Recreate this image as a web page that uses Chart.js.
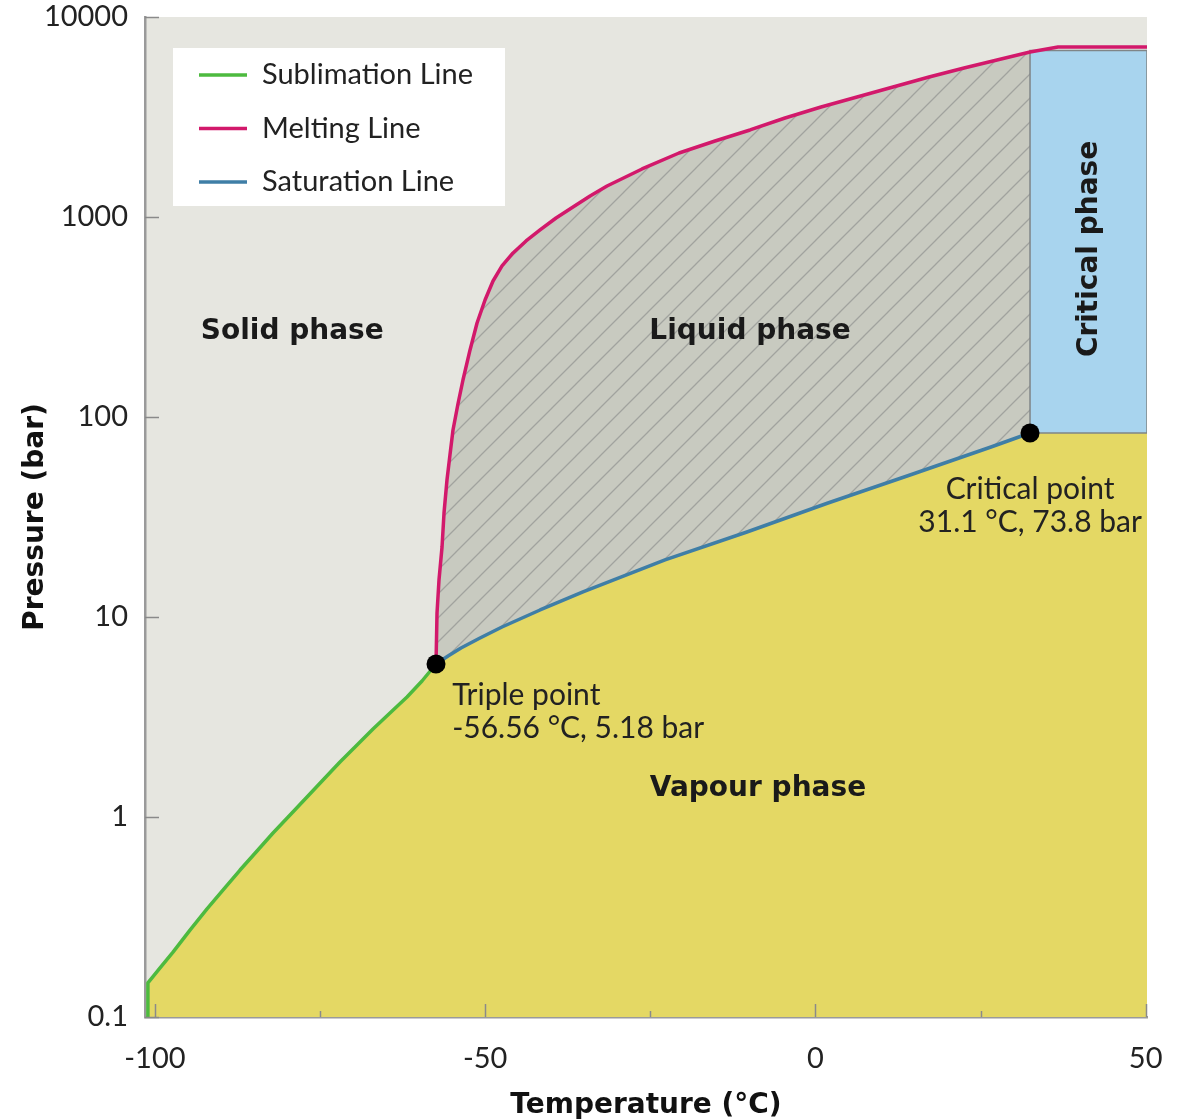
<!DOCTYPE html>
<html>
<head>
<meta charset="utf-8">
<script src="https://cdn.jsdelivr.net/npm/chart.js@4.4.0/dist/chart.umd.min.js"></script>
<style>
  html, body { margin: 0; padding: 0; background: #fff; }
  #wrap { width: 1184px; height: 1119px; }
</style>
</head>
<body>
<div id="wrap"><canvas id="phase-chart"></canvas></div>
<script>
// CO2 phase diagram

const xRange = [-101.5, 50.2];
const yRange = [0.1, 10000];
const xTickValues = [-100, -75, -50, -25, 0, 25, 50];
const xLabelValues = [-100, -50, 0, 50];
const yTickValues = [0.1, 1, 10, 100, 1000, 10000];

const sublimationT = [-101.06, -101.06, -99.22, -97.26, -94.69, -92.11, -89.54, -87.11, -84.54, -82.12, -79.54,
    -76.97, -74.55, -71.98, -69.40, -66.98, -64.41, -61.83, -59.56, -57.44];
const sublimationP = [0.1, 0.148, 0.176, 0.211, 0.272, 0.347, 0.437, 0.543, 0.676, 0.832, 1.023,
    1.259, 1.531, 1.884, 2.291, 2.754, 3.311, 3.981, 4.786, 5.82];

const meltingT = [-57.44, -57.29, -56.99, -56.53, -56.23, -55.78, -55.33, -54.87, -54.12, -53.36, -52.29, -51.23,
    -50.02, -48.81, -47.45, -45.78, -43.81, -41.69, -39.27, -36.70, -34.12, -31.55, -26.25, -20.65, -15.20,
    -9.90, -4.60, 0.85, 6.30, 11.75, 17.20, 22.50, 27.49, 32.49, 36.73, 50.2];
const meltingP = [5.82, 10.47, 15.31, 22.39, 33.11, 48.42, 64.57, 86.1, 116.1, 153.1, 216.3, 295.1,
    384.6, 478.6, 568.9, 660.7, 758.6, 861, 988.6, 1122, 1274, 1429, 1738, 2089, 2399,
    2723, 3126, 3548, 3981, 4467, 5012, 5559, 6095, 6683, 7079, 7079];

const saturationT = [-57.44, -55.62, -53.66, -50.78, -47.45, -41.69, -35.19, -22.77, -10.37, 1.90, 14.32, 26.58, 32.49];
const saturationP = [5.82, 6.38, 7.0, 7.85, 8.91, 10.84, 13.34, 19.28, 26.61, 37.15, 51.29, 70.79, 83.18];

const triplePoint = { t: -57.44, p: 5.82 };
const criticalPoint = { t: 32.49, p: 83.18 };
const criticalTop = 6800;

// text placed on the chart (anchors in data units)
const regionLabels = [
    { text: 'Solid phase', t: -79.2, p: 266 },
    { text: 'Liquid phase', t: -9.9, p: 266 },
    { text: 'Vapour phase', t: -8.7, p: 1.38 },
    { text: 'Critical phase', t: 41.6, p: 692, rotate: true }
];
const pointNotes = [
    { lines: ['Triple point', '-56.56 °C, 5.18 bar'], t: -55.0, p: 4.05, align: 'left' },
    { lines: ['Critical point', '31.1 °C, 73.8 bar'], t: 32.5, p: 43.7, align: 'center' }
];

const colors = {
    plotBg: '#e6e6e0',
    vapour: '#e4d864',
    liquid: '#c8cac0',
    hatch: '#a1a39e',
    critical: '#a8d4ee',
    criticalBorder: '#7f8587',
    sublimation: '#4dba3f',
    melting: '#d2196b',
    saturation: '#3f7ea6',
    axis: '#9a9a9a',
    text: '#1a1a1a'
};

function toPoints(ts, ps) {
    return ts.map((t, i) => ({ x: t, y: ps[i] }));
}

// diagonal hatch for the liquid region
function makeHatch() {
    const size = 24;
    const c = document.createElement('canvas');
    c.width = size;
    c.height = size;
    const g = c.getContext('2d');
    g.fillStyle = colors.liquid;
    g.fillRect(0, 0, size, size);
    g.strokeStyle = colors.hatch;
    g.lineWidth = 1.3;
    g.beginPath();
    g.moveTo(-2, size + 2); g.lineTo(size + 2, -2);
    g.moveTo(-2, 2); g.lineTo(2, -2);
    g.moveTo(size - 2, size + 2); g.lineTo(size + 2, size - 2);
    g.stroke();
    return g.createPattern(c, 'repeat');
}

const sublimation = toPoints(sublimationT, sublimationP);
const melting = toPoints(meltingT, meltingP);
const saturation = toPoints(saturationT, saturationP);

// vapour area: everything under sublimation + saturation + critical isobar
const vapourEdge = sublimation.concat(saturation.slice(1), [{ x: xRange[1], y: criticalPoint.p }]);

// liquid area: melting line down to the critical point, back along saturation
const cut = meltingT.findIndex(t => t >= criticalPoint.t);
const liquidShape = melting.slice(0, cut + 1).concat(saturation.slice().reverse());

const criticalBox = [
    { x: criticalPoint.t, y: criticalPoint.p },
    { x: xRange[1], y: criticalPoint.p },
    { x: xRange[1], y: criticalTop },
    { x: criticalPoint.t, y: criticalTop },
    { x: criticalPoint.t, y: criticalPoint.p }
];

const areaBgPlugin = {
    id: 'areaBg',
    beforeDraw(chart) {
        const { ctx, chartArea: a } = chart;
        ctx.save();
        ctx.fillStyle = colors.plotBg;
        ctx.fillRect(a.left, a.top, a.right - a.left, a.bottom - a.top);
        ctx.restore();
    }
};

const innerTicksPlugin = {
    id: 'innerTicks',
    afterDraw(chart) {
        const { ctx, chartArea: a, scales } = chart;
        ctx.save();
        ctx.strokeStyle = '#8a8a8a';
        ctx.lineWidth = 1.5;
        ctx.beginPath();
        xTickValues.forEach(v => {
            const px = Math.round(scales.x.getPixelForValue(v)) + 0.5;
            const len = xLabelValues.includes(v) ? 13 : 6;
            ctx.moveTo(px, a.bottom);
            ctx.lineTo(px, a.bottom - len);
        });
        yTickValues.forEach(v => {
            const py = Math.round(scales.y.getPixelForValue(v)) + 0.5;
            ctx.moveTo(a.left, py);
            ctx.lineTo(a.left + 14, py);
        });
        ctx.stroke();
        ctx.restore();
    }
};

const textPlugin = {
    id: 'phaseText',
    afterDatasetsDraw(chart) {
        const { ctx, chartArea: a, scales } = chart;
        ctx.save();
        ctx.fillStyle = colors.text;
        ctx.textBaseline = 'middle';

        ctx.font = 'bold 28px "DejaVu Sans"';
        regionLabels.forEach(l => {
            const px = scales.x.getPixelForValue(l.t);
            const py = scales.y.getPixelForValue(l.p);
            ctx.save();
            ctx.translate(px, py);
            if (l.rotate) ctx.rotate(-Math.PI / 2);
            ctx.textAlign = 'center';
            ctx.fillText(l.text, 0, 0);
            ctx.restore();
        });

        ctx.font = '30px Lato';
        ctx.fillStyle = '#222';
        pointNotes.forEach(n => {
            const px = scales.x.getPixelForValue(n.t);
            const py = scales.y.getPixelForValue(n.p);
            ctx.textAlign = n.align;
            n.lines.forEach((s, i) => ctx.fillText(s, px, py + i * 33));
        });

        // legend box
        const items = chart.data.datasets.filter(d => d.inLegend);
        const bx = a.left + 28, by = a.top + 31, bw = 332, bh = 158;
        ctx.fillStyle = '#ffffff';
        ctx.fillRect(bx, by, bw, bh);
        ctx.font = '29px Lato';
        ctx.textAlign = 'left';
        items.forEach((d, i) => {
            const cy = by + 27 + i * 53.5;
            ctx.strokeStyle = d.borderColor;
            ctx.lineWidth = 3.5;
            ctx.beginPath();
            ctx.moveTo(bx + 26, cy);
            ctx.lineTo(bx + 74, cy);
            ctx.stroke();
            ctx.fillStyle = '#222';
            ctx.fillText(d.label, bx + 89, cy);
        });
        ctx.restore();
    }
};

const lineDefaults = { pointRadius: 0, fill: false, tension: 0, borderWidth: 3.5, borderJoinStyle: 'round' };

new Chart(document.getElementById('phase-chart'), {
    type: 'line',
    data: {
        datasets: [
            {
                label: 'Points',
                data: [{ x: triplePoint.t, y: triplePoint.p }, { x: criticalPoint.t, y: criticalPoint.p }],
                showLine: false,
                pointRadius: 9.5,
                pointBackgroundColor: '#000',
                pointBorderWidth: 0,
                order: 0
            },
            Object.assign({}, lineDefaults, {
                label: 'Sublimation Line', data: sublimation, borderColor: colors.sublimation, inLegend: true, order: 1
            }),
            Object.assign({}, lineDefaults, {
                label: 'Melting Line', data: melting, borderColor: colors.melting, inLegend: true, order: 1
            }),
            Object.assign({}, lineDefaults, {
                label: 'Saturation Line', data: saturation, borderColor: colors.saturation, inLegend: true, order: 1
            }),
            {
                label: 'Critical phase', data: criticalBox, fill: 'shape', pointRadius: 0, tension: 0,
                backgroundColor: colors.critical, borderColor: colors.criticalBorder, borderWidth: 1.5, order: 4
            },
            {
                label: 'Liquid phase', data: liquidShape, fill: 'shape', pointRadius: 0, tension: 0,
                backgroundColor: makeHatch(), borderWidth: 0, borderColor: 'rgba(0,0,0,0)', order: 5
            },
            {
                label: 'Vapour phase', data: vapourEdge, fill: 'start', pointRadius: 0, tension: 0,
                backgroundColor: colors.vapour, borderWidth: 0, borderColor: 'rgba(0,0,0,0)', order: 6
            }
        ]
    },
    options: {
        responsive: true,
        maintainAspectRatio: false,
        animation: false,
        events: [],
        layout: { padding: { left: 19, right: 37, top: 0, bottom: 0 } },
        plugins: {
            legend: { display: false },
            tooltip: { enabled: false }
        },
        scales: {
            x: {
                type: 'linear',
                min: xRange[0],
                max: xRange[1],
                afterBuildTicks: scale => { scale.ticks = xTickValues.map(v => ({ value: v })); },
                afterFit: scale => { scale.height = 102; },
                grid: { display: false },
                border: { display: true, color: colors.axis, width: 2.5 },
                ticks: {
                    autoSkip: false,
                    maxRotation: 0,
                    padding: 17,
                    color: '#222',
                    font: { family: 'Lato', size: 29, lineHeight: 1.17 },
                    callback: v => (xLabelValues.includes(v) ? String(v) : '')
                },
                title: {
                    display: true,
                    text: 'Temperature (°C)',
                    color: '#111',
                    padding: { top: 0, bottom: -4 },
                    font: { family: 'DejaVu Sans', size: 28, weight: 'bold' }
                }
            },
            y: {
                type: 'logarithmic',
                min: yRange[0],
                max: yRange[1],
                afterBuildTicks: scale => { scale.ticks = yTickValues.map(v => ({ value: v })); },
                afterFit: scale => { scale.width = 126; },
                grid: { display: false },
                border: { display: true, color: colors.axis, width: 2.5 },
                ticks: {
                    autoSkip: false,
                    padding: 9,
                    color: '#222',
                    font: { family: 'Lato', size: 29, lineHeight: 0.55 },
                    callback: v => String(v)
                },
                title: {
                    display: true,
                    text: 'Pressure (bar)',
                    color: '#111',
                    padding: 0,
                    font: { family: 'DejaVu Sans', size: 28, weight: 'bold' }
                }
            }
        }
    },
    plugins: [areaBgPlugin, innerTicksPlugin, textPlugin]
});
</script>
</body>
</html>
